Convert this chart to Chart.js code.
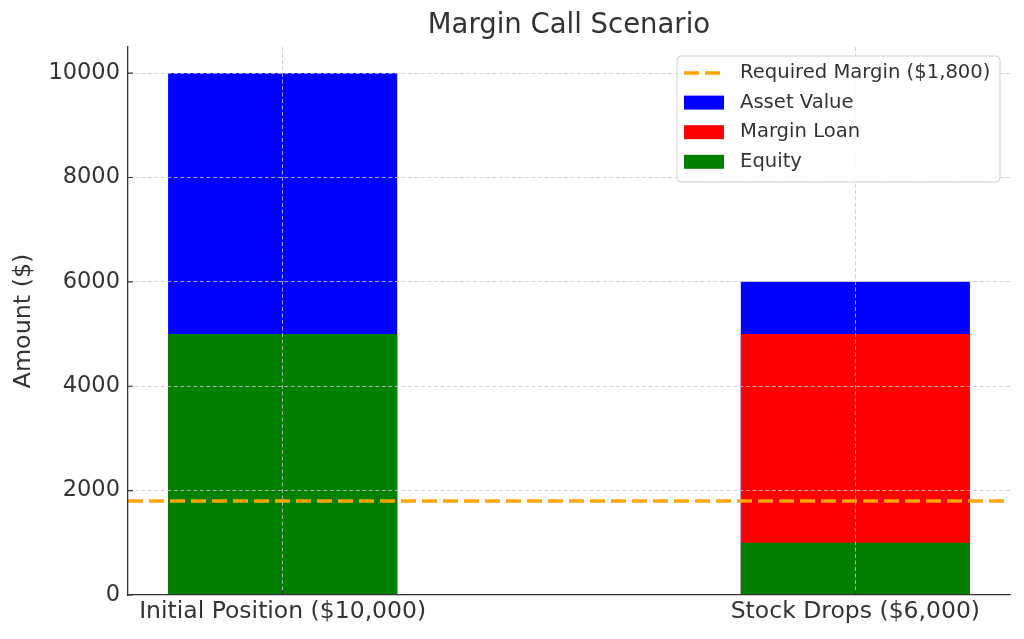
<!DOCTYPE html>
<html>
<head>
<meta charset="utf-8">
<script src="https://cdn.jsdelivr.net/npm/chart.js@4.4.0/dist/chart.umd.min.js"></script>
<style>
  html, body { margin: 0; padding: 0; background: #fff; }
  #wrap { width: 1024px; height: 639px; }
</style>
</head>
<body>
<div id="wrap"><canvas id="marginChart"></canvas></div>
<script>
// chart values
const scenarios = ['Initial Position ($10,000)', 'Stock Drops ($6,000)'];
const assetValue = [10000, 6000];
const marginLoan = [5000, 5000];
const equity = [5000, 1000];
const requiredMargin = 1800;
const yTicks = [0, 2000, 4000, 6000, 8000, 10000];
const xLimits = [-0.27, 1.27];
const yLimits = [0, 10500];

const textColor = '#333333';
const gridColor = '#c8c8c8';
const fontFamily = '"DejaVu Sans", sans-serif';

function barPoints(values) {
    return values.map((v, i) => ({ x: i, y: v }));
}

// legend box drawn inside the plot, top right (matplotlib style)
const legendBox = {
    id: 'legendBox',
    afterDraw(chart) {
        const { ctx, chartArea } = chart;
        const w = 323, h = 126;
        const left = chartArea.right - 10 - w;
        const top = chartArea.top + 9;
        ctx.save();
        ctx.beginPath();
        ctx.roundRect(left, top, w, h, 4);
        ctx.fillStyle = 'rgba(255,255,255,0.85)';
        ctx.fill();
        ctx.strokeStyle = '#d0d0d0';
        ctx.lineWidth = 1;
        ctx.stroke();
        ctx.font = '19.6px ' + fontFamily;
        ctx.textBaseline = 'middle';
        chart.data.datasets.forEach((ds, i) => {
            const cy = top + 17 + i * 29.6;
            if (ds.type === 'line') {
                ctx.beginPath();
                ctx.setLineDash(ds.borderDash);
                ctx.strokeStyle = ds.borderColor;
                ctx.lineWidth = ds.borderWidth;
                ctx.moveTo(left + 7, cy);
                ctx.lineTo(left + 43, cy);
                ctx.stroke();
                ctx.setLineDash([]);
            } else {
                ctx.fillStyle = ds.backgroundColor;
                ctx.fillRect(left + 7, cy - 7, 40, 14);
            }
            ctx.fillStyle = textColor;
            ctx.fillText(ds.label, left + 63, cy);
        });
        ctx.restore();
    }
};

// small inward tick marks on both axes
const innerTicks = {
    id: 'innerTicks',
    afterDraw(chart) {
        const { ctx, chartArea, scales } = chart;
        ctx.save();
        ctx.strokeStyle = textColor;
        ctx.lineWidth = 1.2;
        ctx.beginPath();
        scales.x.ticks.forEach(t => {
            const px = scales.x.getPixelForValue(t.value);
            ctx.moveTo(px, chartArea.bottom);
            ctx.lineTo(px, chartArea.bottom - 5);
        });
        scales.y.ticks.forEach(t => {
            const py = scales.y.getPixelForValue(t.value);
            ctx.moveTo(chartArea.left, py);
            ctx.lineTo(chartArea.left + 5, py);
        });
        ctx.stroke();
        ctx.restore();
    }
};

const ctx = document.getElementById('marginChart');
new Chart(ctx, {
    type: 'bar',
    data: {
        datasets: [
            {
                type: 'line',
                label: 'Required Margin ($1,800)',
                data: [{ x: xLimits[0], y: requiredMargin }, { x: xLimits[1], y: requiredMargin }],
                borderColor: '#FFA500',
                borderWidth: 3.5,
                borderDash: [15, 6],
                pointRadius: 0,
                fill: false,
                order: 0
            },
            {
                label: 'Asset Value',
                data: barPoints(assetValue),
                backgroundColor: '#0000FF',
                order: 3
            },
            {
                label: 'Margin Loan',
                data: barPoints(marginLoan),
                backgroundColor: '#FF0000',
                order: 2
            },
            {
                label: 'Equity',
                data: barPoints(equity),
                backgroundColor: '#008000',
                order: 1
            }
        ]
    },
    options: {
        responsive: true,
        maintainAspectRatio: false,
        animation: false,
        layout: { padding: { left: 0, right: 14, top: 0, bottom: 0 } },
        datasets: {
            bar: { grouped: false, barPercentage: 0.4, categoryPercentage: 1.0 }
        },
        scales: {
            x: {
                type: 'linear',
                min: xLimits[0],
                max: xLimits[1],
                offset: false,
                afterBuildTicks: scale => { scale.ticks = scenarios.map((_, i) => ({ value: i })); },
                afterFit: scale => { scale.height = 44; },
                ticks: {
                    callback: value => scenarios[value],
                    color: textColor,
                    font: { family: fontFamily, size: 23.5 },
                    padding: 3,
                    maxRotation: 0
                },
                grid: { color: gridColor, lineWidth: 0.8, drawTicks: false, offset: false, z: 1 },
                border: { color: textColor, width: 1.3, dash: [4, 2.5], z: 1 }
            },
            y: {
                min: yLimits[0],
                max: yLimits[1],
                afterBuildTicks: scale => { scale.ticks = yTicks.map(v => ({ value: v })); },
                afterFit: scale => { scale.width = 128; },
                ticks: {
                    callback: value => String(value),
                    color: textColor,
                    font: { family: fontFamily, size: 22.5 },
                    padding: 8
                },
                title: {
                    display: true,
                    text: 'Amount ($)',
                    color: textColor,
                    font: { family: fontFamily, size: 23.8 },
                    padding: { top: 10, bottom: 0 }
                },
                grid: { color: gridColor, lineWidth: 0.8, drawTicks: false, z: 1 },
                border: { color: textColor, width: 1.3, dash: [4, 2.5], z: 1 }
            }
        },
        plugins: {
            legend: { display: false },
            tooltip: { enabled: false },
            title: {
                display: true,
                fullSize: false,
                text: 'Margin Call Scenario',
                color: textColor,
                font: { family: fontFamily, size: 27.5, weight: 'normal' },
                padding: { top: 9, bottom: 5 }
            }
        }
    },
    plugins: [innerTicks, legendBox]
});
</script>
</body>
</html>
